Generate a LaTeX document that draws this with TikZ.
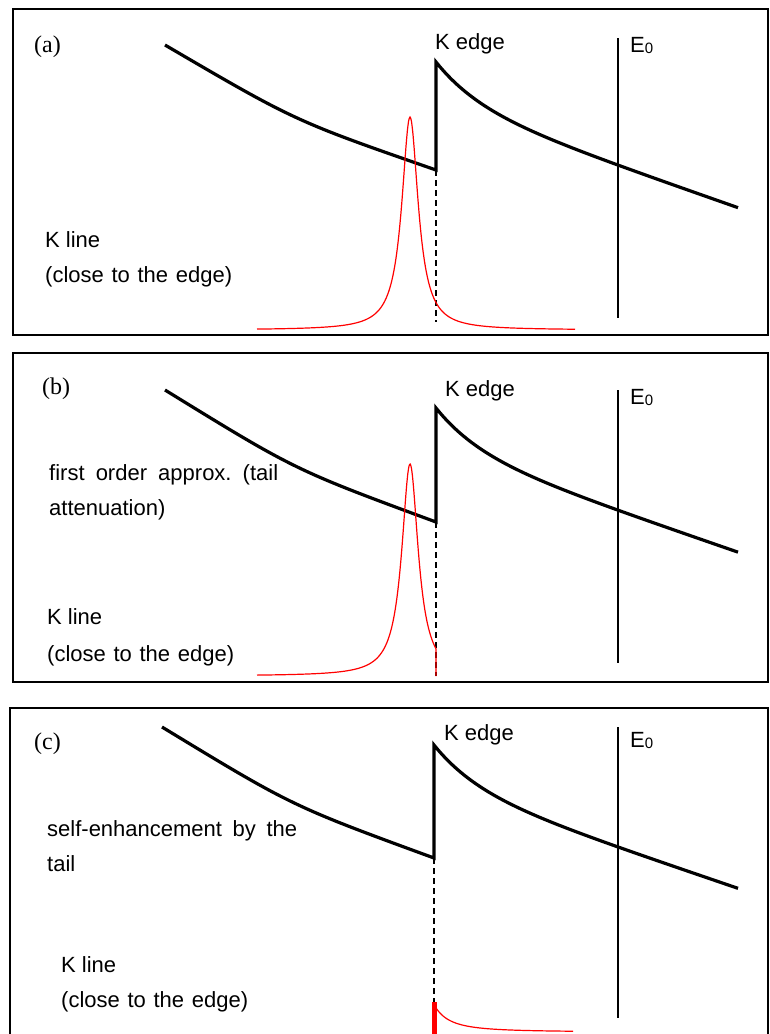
\documentclass[tikz,border=0pt]{standalone}
\usepackage{fontspec}
\setmainfont{Liberation Sans}
\newfontfamily\panelfont{Liberation Serif}
\usepackage{tikz}
\usetikzlibrary{positioning}
\frenchspacing

\newcommand{\Ezero}{E\raisebox{-1.5pt}{\fontsize{15}{15}\selectfont 0}}

\begin{document}
\begin{tikzpicture}[x=1pt, y=-1pt,
    frame/.style={line width=1.6pt},
    spectrum/.style={line width=3.2pt, line join=miter},
    energy/.style={line width=1.4pt},
    edgemark/.style={line width=2.4pt, dash pattern=on 6pt off 4pt},
    kline/.style={red, line width=1.2pt},
    txt/.style={anchor=base west, inner sep=0pt, font=\fontsize{22}{26}\selectfont},
    tag/.style={anchor=base west, inner sep=0pt, font=\panelfont\fontsize{24}{28}\selectfont}]
    \useasboundingbox (0,0) rectangle (769,1034);
    \clip (0,0) rectangle (769,1034);
    \fill[white] (0,0) rectangle (769,1034);

    % Riquadri
    \draw[frame] (13,9) rectangle (768,335);
    \draw[frame] (13,353) rectangle (768,682);
    \draw[frame] (10,708) rectangle (768,1060);

    % ---------------- (a)
    \node[tag] (taga) at (34,52) {(a)};
    \draw[spectrum] (165,45) .. controls (295,121) .. (436,170) -- (436,62)
        -- plot[domain=0:302, samples=80] ({436+\x}, {62+40*(1-exp(-\x/44))+0.35*\x});
    \draw[energy] (618,38) -- (618,318);
    \draw[edgemark] (436,170) -- (436,322);
    \draw[kline] plot[domain=257:575, samples=240, smooth] (\x, {330-213/(((\x-410)/10)^2+1)});
    \node[txt] (kedgea) at (435,49) {K edge};
    \node[txt] (ezeroa) at (630,52) {\Ezero};
    \node[txt] (klinea) at (45,247) {K line};
    \node[txt] (closea) at (45,282) {\makebox[187pt][s]{(close to the edge)}};

    % ---------------- (b)
    \node[tag] (tagb) at (42,394) {(b)};
    \draw[spectrum] (165,390) .. controls (295,470) .. (436,522) -- (436,408)
        -- plot[domain=0:302, samples=80] ({436+\x}, {408+40*(1-exp(-\x/44))+0.345*\x});
    \draw[energy] (618,390) -- (618,663);
    \draw[edgemark] (436,522) -- (436,676);
    \draw[kline] plot[domain=257:436, samples=160, smooth] (\x, {676-212/(((\x-410)/10)^2+1)})
        -- (436,676);
    \node[txt] (kedgeb) at (445,396) {K edge};
    \node[txt] (ezerob) at (630,404) {\Ezero};
    \node[txt] (approxb) at (49,480) {\makebox[229pt][s]{first order approx. (tail}};
    \node[txt] (attenb) at (49,515) {attenuation)};
    \node[txt] (klineb) at (47,624) {K line};
    \node[txt] (closeb) at (47,661) {\makebox[187pt][s]{(close to the edge)}};

    % ---------------- (c)
    \node[tag] (tagc) at (34,749) {(c)};
    \draw[spectrum] (162,727) .. controls (292,806) .. (434,858) -- (434,745)
        -- plot[domain=0:304, samples=80] ({434+\x}, {745+40*(1-exp(-\x/44))+0.34*\x});
    \draw[energy] (618,727) -- (618,1018);
    \draw[edgemark] (434,858) -- (434,1002);
    \draw[red, line width=5pt] (434,1002) -- (434,1034);
    \draw[kline] plot[domain=436:573, samples=80, smooth] (\x, {1032-213/(((\x-408)/10)^2+1)});
    \node[txt] (kedgec) at (444,740) {K edge};
    \node[txt] (ezeroc) at (630,747) {\Ezero};
    \node[txt] (selfc) at (47,836) {\makebox[250pt][s]{self-enhancement by the}};
    \node[txt] (tailc) at (47,871) {tail};
    \node[txt] (klinec) at (61,972) {K line};
    \node[txt] (closec) at (61,1007) {\makebox[187pt][s]{(close to the edge)}};
\end{tikzpicture}
\end{document}
